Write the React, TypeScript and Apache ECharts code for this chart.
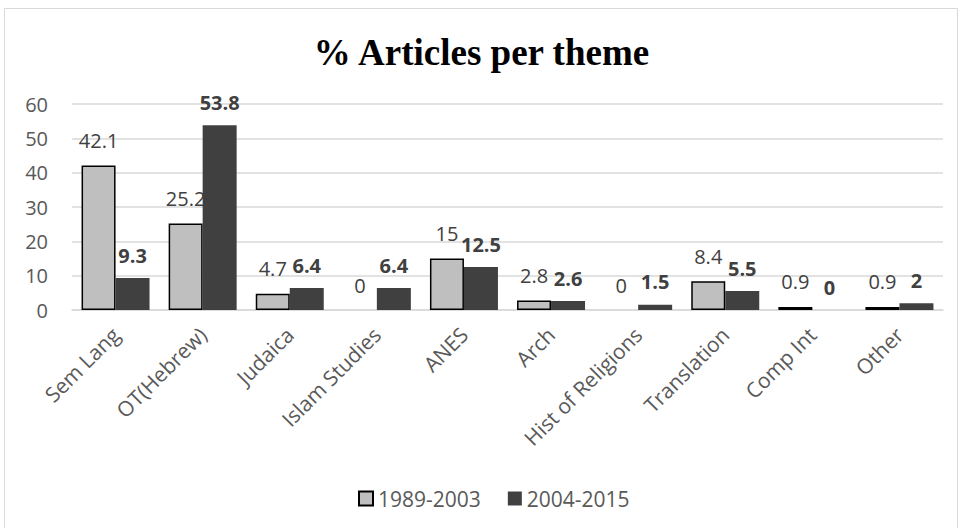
import React, { useEffect, useRef } from "react";
import * as echarts from "echarts";

const categories = ["Sem Lang", "OT(Hebrew)", "Judaica", "Islam Studies", "ANES", "Arch", "Hist of Religions", "Translation", "Comp Int", "Other"];
const series1989 = [42.1, 25.2, 4.7, 0, 15, 2.8, 0, 8.4, 0.9, 0.9];
const series2004 = [9.3, 53.8, 6.4, 6.4, 12.5, 2.6, 1.5, 5.5, 0, 2];
const seriesNames = ["1989-2003", "2004-2015"];

export default function App() {
  const ref = useRef<HTMLDivElement>(null);
  useEffect(() => {
    const chart = echarts.init(ref.current!, null, { renderer: "svg" });
    const font = "'Open Sans', 'Noto Sans', sans-serif";
    chart.setOption({
      animation: false,
      backgroundColor: "#ffffff",
      title: {
        text: "% Articles per theme",
        left: "center",
        top: 29,
        textStyle: { fontFamily: "'Liberation Serif', 'Times New Roman', serif", fontWeight: "bold", fontSize: 37, color: "#000000" },
      },
      graphic: [
        { type: "rect", shape: { x: 4.5, y: 8.5, width: 953, height: 530 }, style: { fill: "none", stroke: "#d9d9d9", lineWidth: 1 }, silent: true },
      ],
      legend: {
        top: 483,
        left: 353,
        itemWidth: 14,
        itemHeight: 14,
        itemGap: 27,
        icon: "rect",
        textStyle: { fontFamily: font, fontSize: 21, color: "#595959" },
        data: seriesNames,
      },
      grid: { left: 72, right: 20, top: 104, bottom: 218, containLabel: false },
      xAxis: {
        type: "category",
        data: categories,
        axisLine: { show: true, lineStyle: { color: "#d9d9d9", width: 1.5 } },
        axisTick: { show: false },
        axisLabel: { rotate: 45, interval: 0, fontFamily: font, fontSize: 21, color: "#595959", margin: 21 },
      },
      yAxis: {
        type: "value",
        min: 0,
        max: 60,
        interval: 10,
        axisLine: { show: false },
        axisTick: { show: false },
        splitLine: { lineStyle: { color: "#d9d9d9", width: 1.5 } },
        axisLabel: { fontFamily: font, fontSize: 20, color: "#595959", margin: 24 },
      },
      series: [
        {
          name: seriesNames[0],
          type: "bar",
          data: series1989.map((v) => (v === 0 ? { value: v, itemStyle: { borderWidth: 0 } } : v)),
          barWidth: 34,
          barGap: "0%",
          itemStyle: { color: "#bfbfbf", borderColor: "#000000", borderWidth: 1.5 },
          label: { show: true, position: "top", distance: 15, fontFamily: font, fontSize: 20, color: "#404040", fontWeight: "normal" },
        },
        {
          name: seriesNames[1],
          type: "bar",
          data: series2004,
          barWidth: 34,
          barGap: "0%",
          itemStyle: { color: "#404040" },
          label: { show: true, position: "top", distance: 13, fontFamily: font, fontSize: 20, color: "#404040", fontWeight: "bold" },
        },
      ],
    });
    return () => chart.dispose();
  }, []);
  return <div ref={ref} style={{ position: "fixed", left: 0, top: 0, width: 963, height: 528 }} />;
}
